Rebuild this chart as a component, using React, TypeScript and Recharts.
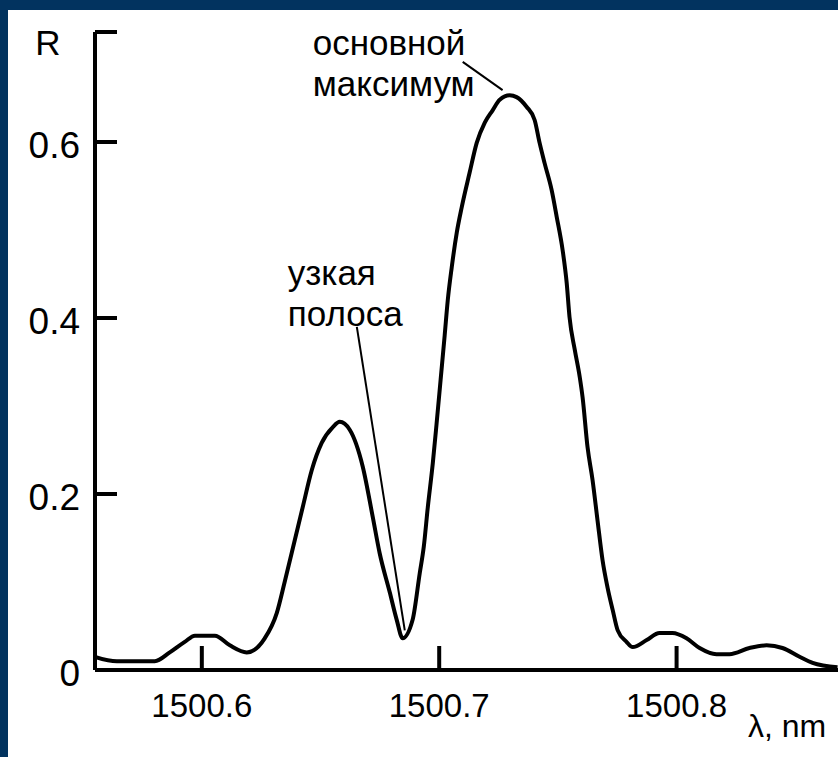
import React from "react";
import {
  Line,
  LineChart,
  XAxis,
  YAxis,
  ReferenceLine,
  ReferenceDot,
} from "recharts";

// wavelength, nm
const lambda = [
  1500.555, 1500.5642, 1500.5802, 1500.5865, 1500.5928, 1500.5971, 1500.6055,
  1500.6118, 1500.6189, 1500.6265, 1500.6316, 1500.6349, 1500.6392, 1500.6425,
  1500.6463, 1500.6505, 1500.6552, 1500.6581, 1500.6623, 1500.6678, 1500.672,
  1500.6749, 1500.6792, 1500.6821, 1500.6846, 1500.6888, 1500.6918, 1500.6935,
  1500.6952, 1500.6973, 1500.6989, 1500.7006, 1500.7023, 1500.7036, 1500.7053,
  1500.7074, 1500.7095, 1500.7128, 1500.7158, 1500.7192, 1500.7225, 1500.7255,
  1500.7297, 1500.7326, 1500.7368, 1500.7402, 1500.7423, 1500.7444, 1500.7474,
  1500.7495, 1500.752, 1500.7537, 1500.7549, 1500.7571, 1500.7592, 1500.7604,
  1500.7625, 1500.7646, 1500.7667, 1500.7688, 1500.7709, 1500.7731, 1500.7752,
  1500.7789, 1500.7815, 1500.7874, 1500.7928, 1500.7983, 1500.8042, 1500.8097,
  1500.8168, 1500.8223, 1500.8307, 1500.8379, 1500.8446, 1500.8518, 1500.8573,
  1500.8678,
];

// reflectance R
const reflectance = [
  0.015, 0.01, 0.01, 0.02, 0.032, 0.039, 0.039,
  0.028, 0.02, 0.036, 0.065, 0.1, 0.148, 0.185,
  0.227, 0.258, 0.276, 0.282, 0.273, 0.231, 0.174,
  0.133, 0.088, 0.057, 0.036, 0.057, 0.11, 0.14,
  0.185, 0.235, 0.28, 0.33, 0.38, 0.42, 0.458,
  0.497, 0.526, 0.565, 0.599, 0.622, 0.636, 0.648,
  0.653, 0.651, 0.64, 0.625, 0.599, 0.576, 0.545,
  0.515, 0.477, 0.44, 0.401, 0.364, 0.333, 0.31,
  0.253, 0.216, 0.17, 0.125, 0.094, 0.068, 0.045,
  0.032, 0.026, 0.034, 0.042, 0.042, 0.036, 0.025,
  0.018, 0.018, 0.025, 0.028, 0.025, 0.015, 0.008,
  0.003,
];

const xDomain = [1500.555, 1500.868];
const xTicks = [1500.6, 1500.7, 1500.8];
const yMax = 0.725;
const yTicks = [0, 0.2, 0.4, 0.6, yMax];

// annotation texts, their anchors and leader lines (data coordinates)
const annotationLines = [
  ["основной", "максимум"],
  ["узкая", "полоса"],
];
const annotationAnchors = [
  { x: 1500.6467, y: 0.699 },
  { x: 1500.6362, y: 0.4375 },
];
const leaders = [
  [{ x: 1500.7099, y: 0.691 }, { x: 1500.7267, y: 0.659 }],
  [{ x: 1500.6653, y: 0.39 }, { x: 1500.6855, y: 0.045 }],
];

const data = lambda.map((l, i) => ({ lambda: l, r: reflectance[i] }));

const FONT = '"Liberation Sans", Arial, sans-serif';
const BLUE = "#02335f";

function YTick(props: any) {
  const { x, y, payload } = props;
  const isTop = payload.value === yMax;
  return (
    <g>
      <line x1={x} x2={x + 22} y1={y} y2={y} stroke="#000" strokeWidth={4} />
      {isTop ? (
        <text x={x - 47} y={y + 23} textAnchor="middle" fontSize={35} fontFamily={FONT} fill="#000">
          R
        </text>
      ) : (
        <text x={x - 15} y={y + 16} textAnchor="end" fontSize={37} fontFamily={FONT} fill="#000">
          {String(payload.value)}
        </text>
      )}
    </g>
  );
}

function XTick(props: any) {
  const { x, y, payload } = props;
  return (
    <g>
      <line x1={x} x2={x} y1={y} y2={y - 24} stroke="#000" strokeWidth={4} />
      <text x={x} y={y + 47} textAnchor="middle" fontSize={33} fontFamily={FONT} fill="#000">
        {payload.value.toFixed(1)}
      </text>
    </g>
  );
}

function AxisUnit(props: any) {
  const { viewBox } = props;
  return (
    <text
      x={viewBox.x + viewBox.width - 90}
      y={viewBox.y + 67}
      fontSize={32}
      fontFamily={FONT}
      fill="#000"
    >
      λ, nm
    </text>
  );
}

function annotation(lines: string[]) {
  return (props: any) => {
    const { viewBox } = props;
    const x = viewBox.x + viewBox.width / 2;
    const y = viewBox.y + viewBox.height / 2;
    return (
      <text x={x} y={y} fontSize={35} fontFamily={FONT} fill="#000">
        {lines.map((t, i) => (
          <tspan key={t} x={x} dy={i === 0 ? 0 : 41}>
            {t}
          </tspan>
        ))}
      </text>
    );
  };
}

export default function App() {
  return (
    <div
      style={{
        position: "absolute",
        left: 0,
        top: 0,
        width: 838,
        height: 757,
        background: "#fff",
        borderTop: `10px solid ${BLUE}`,
        borderLeft: `8px solid ${BLUE}`,
        boxSizing: "border-box",
        overflow: "hidden",
      }}
    >
      <div style={{ position: "absolute", left: -8, top: -10 }}>
        <LineChart
          width={838}
          height={757}
          data={data}
          margin={{ top: 32, right: 0, bottom: 0, left: 0 }}
        >
          <XAxis
            dataKey="lambda"
            type="number"
            domain={xDomain}
            ticks={xTicks}
            allowDataOverflow
            height={87}
            tickSize={0}
            tickMargin={0}
            tickLine={false}
            axisLine={{ stroke: "#000", strokeWidth: 4 }}
            tick={<XTick />}
            label={<AxisUnit />}
          />
          <YAxis
            type="number"
            domain={[0, yMax]}
            ticks={yTicks}
            allowDataOverflow
            width={95}
            tickSize={0}
            tickMargin={0}
            tickLine={false}
            axisLine={{ stroke: "#000", strokeWidth: 4 }}
            tick={<YTick />}
          />
          {leaders.map((seg, i) => (
            <ReferenceLine
              key={i}
              segment={seg}
              stroke="#000"
              strokeWidth={2}
              ifOverflow="visible"
            />
          ))}
          {annotationAnchors.map((p, i) => (
            <ReferenceDot
              key={i}
              x={p.x}
              y={p.y}
              r={1}
              fill="none"
              stroke="none"
              ifOverflow="visible"
              label={annotation(annotationLines[i])}
            />
          ))}
          <Line
            type="monotone"
            dataKey="r"
            stroke="#000"
            strokeWidth={4}
            dot={false}
            isAnimationActive={false}
          />
        </LineChart>
      </div>
    </div>
  );
}
